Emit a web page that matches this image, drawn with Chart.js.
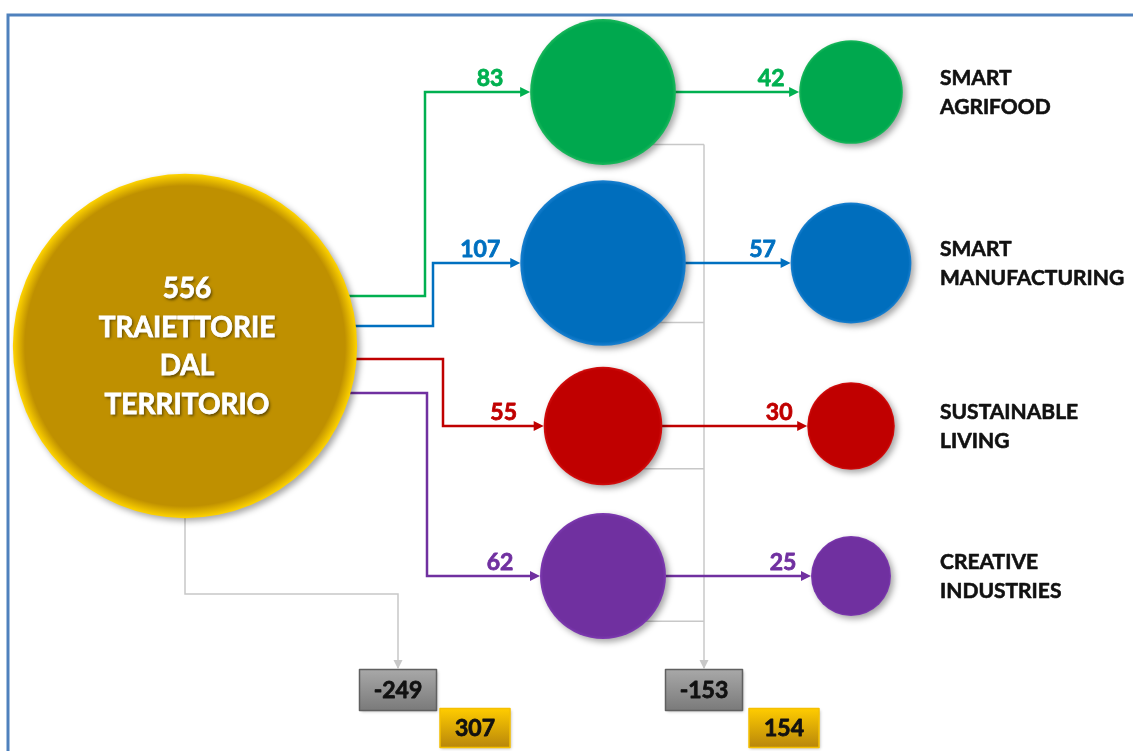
<!DOCTYPE html>
<html>
<head>
<meta charset="utf-8">
<script src="https://cdn.jsdelivr.net/npm/chart.js@4"></script>
<style>
    body { margin: 0; background: #ffffff; }
    canvas { display: block; }
</style>
</head>
<body>
<canvas id="flowChart" width="1133" height="751"></canvas>
<script>
// trajectories and how many survive each stage
const trajectories = [['SMART', 'AGRIFOOD'], ['SMART', 'MANUFACTURING'], ['SUSTAINABLE', 'LIVING'], ['CREATIVE', 'INDUSTRIES']];
const totalTrajectories = 556;
const rootCaption = ['TRAIETTORIE', 'DAL', 'TERRITORIO'];
const firstStage = [83, 107, 55, 62];
const secondStage = [42, 57, 30, 25];
const dropped = [-249, -153];
const remaining = [307, 154];

// layout (pixel units, the scales map 1:1 onto the canvas)
const ROOT = { x: 185, y: 346 };
const COL_X = [603, 851];
const ROW_Y = [92, 263, 426, 576];
const EXIT_Y = [296, 326, 359, 393];
const ELBOW_X = [425, 433, 443, 427];
const ROOT_K = 7.3, BUBBLE_K = 8;
const COLLECTOR_X = 704;
const DROP_BOX = [{ x: 398, y: 690 }, { x: 704, y: 690 }];
const KEEP_BOX = [{ x: 475, y: 728 }, { x: 784, y: 728 }];

const lineColors = ['#00B050', '#0070C0', '#C00000', '#7030A0'];
const fillColors = ['#00A84E', '#006EBD', '#C00000', '#7030A0'];
const rimColors = ['#1CB85C', '#1A80D0', '#D41010', '#7E3AB2'];

const radius = (v, k) => k * Math.sqrt(v);

function bubbleFill(context, bases, rims, rimStart) {
    const chart = context.chart;
    const raw = context.raw;
    const base = bases[context.dataIndex] || bases[0];
    if (!raw || !chart.scales.x) return base;
    const x = chart.scales.x.getPixelForValue(raw.x);
    const y = chart.scales.y.getPixelForValue(raw.y);
    if (!isFinite(x) || !isFinite(y) || !isFinite(raw.r)) return base;
    const g = chart.ctx.createRadialGradient(x, y, 0, x, y, raw.r);
    g.addColorStop(0, base);
    g.addColorStop(rimStart, base);
    g.addColorStop(1, rims[context.dataIndex] || rims[0]);
    return g;
}

// bold text with a thin stroke of the same colour, closer to the heavy labels
function heavyText(ctx, text, x, y, color, weight) {
    ctx.fillStyle = color;
    ctx.strokeStyle = color;
    ctx.lineWidth = weight;
    ctx.lineJoin = 'round';
    ctx.strokeText(text, x, y);
    ctx.fillText(text, x, y);
}

function arrowHead(ctx, x, y, dir, color, size) {
    ctx.fillStyle = color;
    ctx.beginPath();
    if (dir === 'right') {
        ctx.moveTo(x, y);
        ctx.lineTo(x - size, y - size * 0.5);
        ctx.lineTo(x - size, y + size * 0.5);
    } else {
        ctx.moveTo(x, y);
        ctx.lineTo(x - size * 0.5, y - size);
        ctx.lineTo(x + size * 0.5, y - size);
    }
    ctx.closePath();
    ctx.fill();
}

function valueBox(ctx, cx, cy, w, h, top, bottom, border, text) {
    const g = ctx.createLinearGradient(0, cy - h / 2, 0, cy + h / 2);
    g.addColorStop(0, top);
    g.addColorStop(1, bottom);
    ctx.save();
    ctx.shadowColor = 'rgba(0,0,0,0.3)';
    ctx.shadowBlur = 3;
    ctx.shadowOffsetX = 1;
    ctx.shadowOffsetY = 1;
    ctx.fillStyle = g;
    ctx.fillRect(cx - w / 2, cy - h / 2, w, h);
    ctx.restore();
    ctx.strokeStyle = border;
    ctx.lineWidth = 1.5;
    ctx.strokeRect(cx - w / 2, cy - h / 2, w, h);
    ctx.font = 'bold 23px Lato';
    ctx.textAlign = 'center';
    ctx.textBaseline = 'middle';
    heavyText(ctx, text, cx, cy + 1, '#111111', 0.8);
}

// connectors go under the bubbles, labels and boxes on top
const flowPlugin = {
    id: 'flow',
    beforeDraw(chart) {
        const ctx = chart.ctx;
        ctx.save();
        ctx.strokeStyle = '#4F81BD';
        ctx.lineWidth = 3;
        ctx.beginPath();
        ctx.moveTo(8, chart.height);
        ctx.lineTo(8, 15);
        ctx.lineTo(chart.width, 15);
        ctx.stroke();
        ctx.restore();
    },
    beforeDatasetsDraw(chart) {
        const ctx = chart.ctx;
        const px = v => chart.scales.x.getPixelForValue(v);
        const py = v => chart.scales.y.getPixelForValue(v);
        ctx.save();
        ctx.lineJoin = 'miter';

        // grey paths to the drop-out boxes
        ctx.strokeStyle = '#C8C8C8';
        ctx.lineWidth = 1.5;
        ctx.beginPath();
        ctx.moveTo(px(ROOT.x), py(ROOT.y));
        ctx.lineTo(px(ROOT.x), py(594));
        ctx.lineTo(px(DROP_BOX[0].x), py(594));
        ctx.lineTo(px(DROP_BOX[0].x), py(DROP_BOX[0].y - 22));
        ctx.stroke();
        arrowHead(ctx, px(DROP_BOX[0].x), py(DROP_BOX[0].y - 21), 'down', '#C8C8C8', 9);

        let topY = Infinity;
        firstStage.forEach((v, i) => {
            const r = radius(v, BUBBLE_K);
            const y = ROW_Y[i] + r * 0.72;
            topY = Math.min(topY, y);
            ctx.strokeStyle = '#C8C8C8';
            ctx.beginPath();
            ctx.moveTo(px(COL_X[0]), py(y));
            ctx.lineTo(px(COLLECTOR_X), py(y));
            ctx.stroke();
        });
        ctx.beginPath();
        ctx.moveTo(px(COLLECTOR_X), py(topY));
        ctx.lineTo(px(COLLECTOR_X), py(DROP_BOX[1].y - 22));
        ctx.stroke();
        arrowHead(ctx, px(COLLECTOR_X), py(DROP_BOX[1].y - 21), 'down', '#C8C8C8', 9);

        // coloured branches
        ctx.lineWidth = 2.5;
        firstStage.forEach((v, i) => {
            const c = lineColors[i];
            const tip1 = COL_X[0] - radius(v, BUBBLE_K);
            ctx.strokeStyle = c;
            ctx.beginPath();
            ctx.moveTo(px(ROOT.x), py(EXIT_Y[i]));
            ctx.lineTo(px(ELBOW_X[i]), py(EXIT_Y[i]));
            ctx.lineTo(px(ELBOW_X[i]), py(ROW_Y[i]));
            ctx.lineTo(px(tip1 - 8), py(ROW_Y[i]));
            ctx.stroke();
            arrowHead(ctx, px(tip1), py(ROW_Y[i]), 'right', c, 10);

            const tip2 = COL_X[1] - radius(secondStage[i], BUBBLE_K);
            ctx.beginPath();
            ctx.moveTo(px(COL_X[0]), py(ROW_Y[i]));
            ctx.lineTo(px(tip2 - 8), py(ROW_Y[i]));
            ctx.stroke();
            arrowHead(ctx, px(tip2), py(ROW_Y[i]), 'right', c, 10);
        });
        ctx.restore();
    },
    beforeDatasetDraw(chart) {
        const ctx = chart.ctx;
        ctx.save();
        ctx.shadowColor = 'rgba(0,0,0,0.35)';
        ctx.shadowBlur = 6;
        ctx.shadowOffsetX = 3;
        ctx.shadowOffsetY = 3;
    },
    afterDatasetDraw(chart) {
        chart.ctx.restore();
    },
    afterDatasetsDraw(chart) {
        const ctx = chart.ctx;
        const px = v => chart.scales.x.getPixelForValue(v);
        const py = v => chart.scales.y.getPixelForValue(v);
        ctx.save();

        // root caption
        ctx.textAlign = 'center';
        ctx.textBaseline = 'middle';
        ctx.font = 'bold 28px Lato';
        ctx.fillStyle = '#ffffff';
        ctx.shadowColor = 'rgba(0,0,0,0.55)';
        ctx.shadowBlur = 3;
        ctx.shadowOffsetX = 1.5;
        ctx.shadowOffsetY = 1.5;
        [String(totalTrajectories)].concat(rootCaption).forEach((t, i) => {
            ctx.fillText(t, px(ROOT.x + 2), py(289 + i * 38.7));
        });
        ctx.shadowColor = 'transparent';
        ctx.strokeStyle = '#ffffff';
        ctx.lineWidth = 0.8;
        [String(totalTrajectories)].concat(rootCaption).forEach((t, i) => {
            ctx.strokeText(t, px(ROOT.x + 2), py(289 + i * 38.7));
        });

        // flow values above the arrows
        ctx.font = 'bold 23px Lato';
        firstStage.forEach((v, i) => {
            const tip1 = COL_X[0] - radius(v, BUBBLE_K);
            heavyText(ctx, String(v), px(tip1 - 40), py(ROW_Y[i] - 13), lineColors[i], 0.8);
            const tip2 = COL_X[1] - radius(secondStage[i], BUBBLE_K);
            heavyText(ctx, String(secondStage[i]), px(tip2 - 28), py(ROW_Y[i] - 13), lineColors[i], 0.8);
        });

        // trajectory names
        ctx.textAlign = 'left';
        ctx.font = 'bold 21px Lato';
        trajectories.forEach((lines, i) => {
            heavyText(ctx, lines[0], px(940), py(ROW_Y[i] - 14), '#111111', 0.6);
            heavyText(ctx, lines[1], px(940), py(ROW_Y[i] + 15), '#111111', 0.6);
        });

        // drop-out and remaining totals
        dropped.forEach((v, i) => {
            valueBox(ctx, px(DROP_BOX[i].x), py(DROP_BOX[i].y), 77, 41, '#A8A8A8', '#7A7A7A', '#606060', String(v));
        });
        remaining.forEach((v, i) => {
            valueBox(ctx, px(KEEP_BOX[i].x), py(KEEP_BOX[i].y), 70, 39, '#FFCC00', '#B8860B', '#F5C000', String(v));
        });
        ctx.restore();
    }
};

new Chart(document.getElementById('flowChart'), {
    type: 'bubble',
    data: {
        datasets: [
            {
                label: 'Traiettorie dal territorio',
                data: [{ x: ROOT.x, y: ROOT.y, r: radius(totalTrajectories, ROOT_K) }],
                backgroundColor: ctx => bubbleFill(ctx, ['#BF9000'], ['#FFD400'], 0.93),
                borderWidth: 0,
                clip: false
            },
            {
                label: 'Prima fase',
                data: firstStage.map((v, i) => ({ x: COL_X[0], y: ROW_Y[i], r: radius(v, BUBBLE_K) })),
                backgroundColor: ctx => bubbleFill(ctx, fillColors, rimColors, 0.95),
                borderWidth: 0,
                clip: false
            },
            {
                label: 'Seconda fase',
                data: secondStage.map((v, i) => ({ x: COL_X[1], y: ROW_Y[i], r: radius(v, BUBBLE_K) })),
                backgroundColor: ctx => bubbleFill(ctx, fillColors, rimColors, 0.95),
                borderWidth: 0,
                clip: false
            }
        ]
    },
    options: {
        responsive: false,
        animation: false,
        devicePixelRatio: 1,
        layout: { padding: 0, autoPadding: false },
        scales: {
            x: { type: 'linear', min: 0, max: 1133, display: false },
            y: { type: 'linear', min: 0, max: 751, reverse: true, display: false }
        },
        elements: { point: { hoverRadius: 0, hitRadius: 0 } },
        plugins: {
            legend: { display: false },
            tooltip: { enabled: false }
        }
    },
    plugins: [flowPlugin]
});
</script>
</body>
</html>
